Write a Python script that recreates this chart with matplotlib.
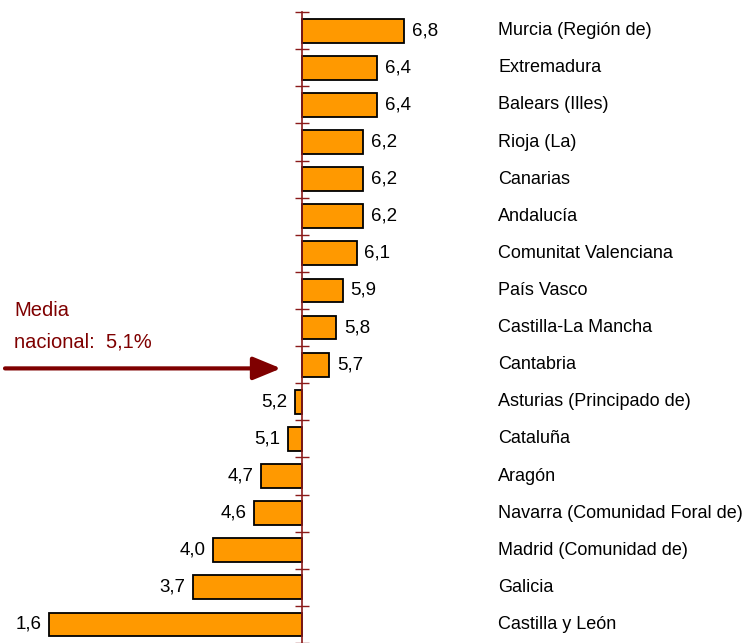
import matplotlib
matplotlib.use("Agg")
import matplotlib.pyplot as plt

regions = ["Murcia (Región de)", "Extremadura", "Balears (Illes)", "Rioja (La)", "Canarias",
           "Andalucía", "Comunitat Valenciana", "País Vasco", "Castilla-La Mancha", "Cantabria",
           "Asturias (Principado de)", "Cataluña", "Aragón", "Navarra (Comunidad Foral de)",
           "Madrid (Comunidad de)", "Galicia", "Castilla y León"]
values = [6.8, 6.4, 6.4, 6.2, 6.2, 6.2, 6.1, 5.9, 5.8, 5.7, 5.2, 5.1, 4.7, 4.6, 4.0, 3.7, 1.6]
baseline = 5.3
media = 5.1

plt.rcParams['font.family'] = ['Liberation Sans', 'DejaVu Sans']
fig = plt.figure(figsize=(7.48, 6.43), dpi=100)
ax = fig.add_axes([0, 0, 1, 1])

n = len(values)
ypos = list(range(n))
widths = [v - baseline for v in values]
ax.barh(ypos, widths, left=baseline, height=0.64, color='#FF9900',
        edgecolor='black', linewidth=1.3, zorder=2)

ax.set_xlim(baseline - 302 / 68.3, baseline + 446 / 68.3)
ax.set_ylim(16.346, -0.828)

for s in ['top', 'right', 'bottom']:
    ax.spines[s].set_visible(False)
ax.spines['left'].set_position(('data', baseline))
ax.spines['left'].set_color('#8B1A1A')
ax.spines['left'].set_linewidth(1.2)
ax.spines['left'].set_zorder(3)
ax.spines['left'].set_bounds(-0.5, n - 0.5)
ax.set_xticks([])
ax.set_yticks([i - 0.5 for i in range(n + 1)])
ax.set_yticklabels([])
ax.tick_params(axis='y', direction='inout', length=10, width=1.0, color='#8B1A1A')

for i, v in enumerate(values):
    lab = f"{v:.1f}".replace('.', ',')
    if v >= baseline:
        ax.annotate(lab, (v, i), xytext=(5.5, 0), textcoords='offset points',
                    ha='left', va='center', fontsize=13.5, color='black')
    else:
        ax.annotate(lab, (v, i), xytext=(-5.5, 0), textcoords='offset points',
                    ha='right', va='center', fontsize=13.5, color='black')

xlab = baseline + 196 / 68.3
for i, r in enumerate(regions):
    ax.text(xlab, i, r, ha='left', va='center', fontsize=13, color='black')

dark = '#7F0000'
ax.text(0.019, 1 - 311 / 643, "Media", transform=ax.transAxes, fontsize=14.5, color=dark,
        ha='left', va='center')
ax.text(0.019, 1 - 342 / 643, "nacional:  " + f"{media:.1f}".replace('.', ',') + "%",
        transform=ax.transAxes, fontsize=14.5, color=dark, ha='left', va='center')
ax.annotate("", xy=(baseline - 21 / 68.3, 9.1), xytext=(baseline - 297 / 68.3, 9.1),
            arrowprops=dict(arrowstyle='-|>,head_length=1.7,head_width=0.7',
                            color=dark, lw=3, shrinkA=0, shrinkB=0))

fig.savefig("out.png", dpi=100)
